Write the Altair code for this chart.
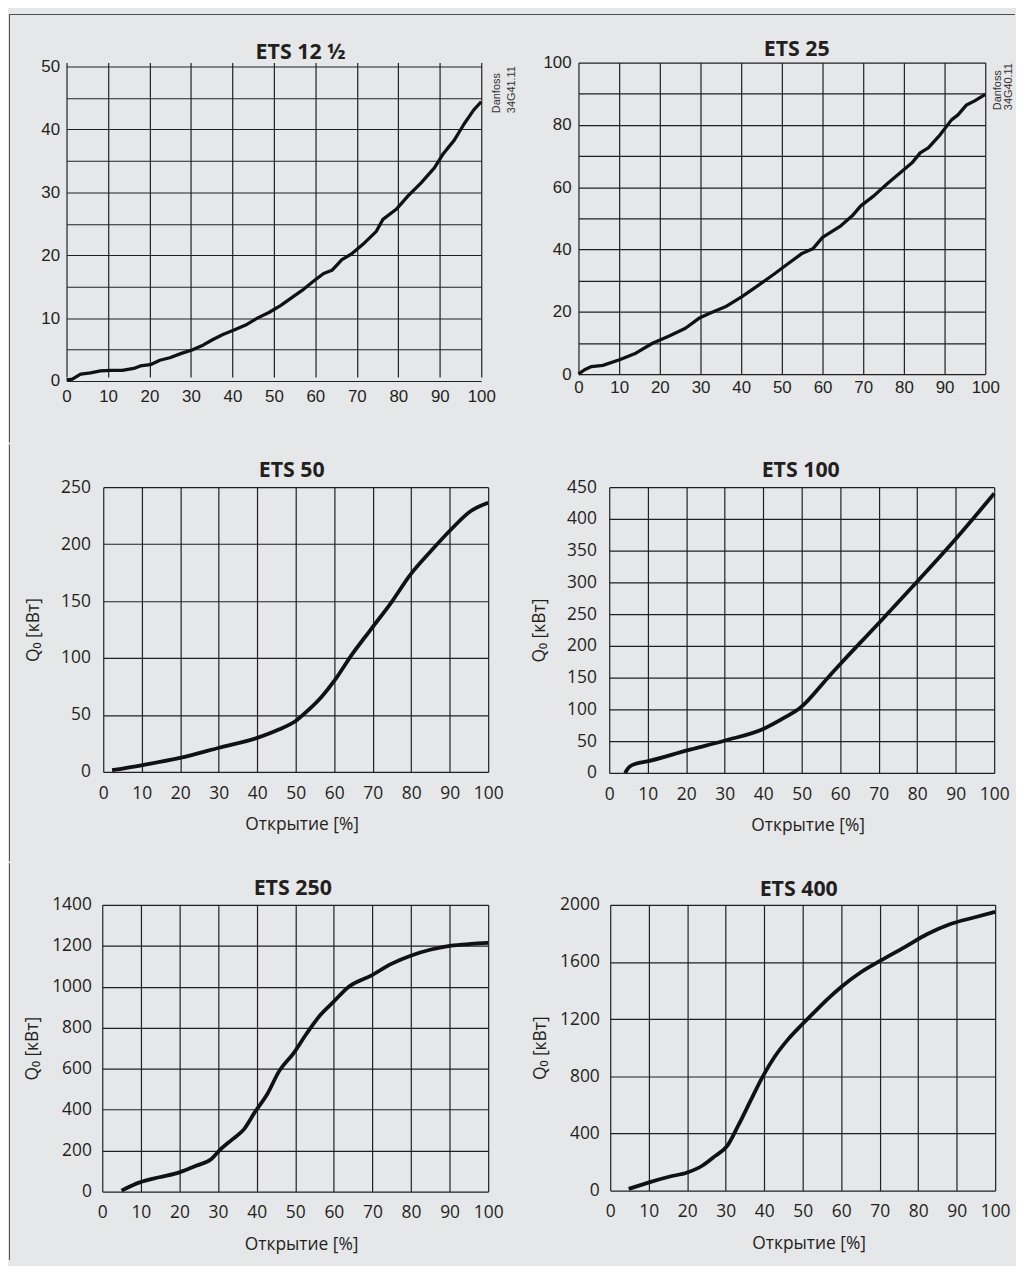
import altair as alt
import pandas as pd

# ---------------- data ----------------
x_ticks = [0, 10, 20, 30, 40, 50, 60, 70, 80, 90, 100]

ets12_open = [0, 1.4, 3.4, 5.8, 8.2, 10.6, 13.4, 16.2, 17.8, 20.2, 22.5, 24.9, 27.7, 30.1,
              32.9, 35.3, 37.7, 40.4, 43.2, 46.0, 48.8, 51.6, 54.4, 56.8, 59.6, 62.0, 64.0,
              66.4, 68.7, 71.9, 74.7, 76.3, 79.5, 82.3, 85.5, 88.7, 90.7, 93.5, 95.9, 98.2, 100]
ets12_q = [0.2, 0.3, 1.1, 1.3, 1.6, 1.7, 1.7, 2.0, 2.4, 2.6, 3.3, 3.7, 4.4, 4.9,
           5.7, 6.6, 7.4, 8.1, 8.9, 10.0, 10.9, 12.0, 13.3, 14.4, 15.9, 17.1, 17.6,
           19.3, 20.2, 22.0, 23.8, 25.7, 27.3, 29.4, 31.5, 33.9, 36.0, 38.3, 40.9, 43.1, 44.4]
ets12_yticks = [0, 5, 10, 15, 20, 25, 30, 35, 40, 45, 50]

ets25_open = [0, 1.5, 3.2, 6.0, 10.1, 14.1, 18.2, 22.3, 26.3, 29.6, 32.0, 36.1, 40.1, 44.2,
              48.2, 51.5, 54.8, 57.6, 60.0, 64.5, 67.3, 69.4, 72.6, 75.9, 79.1, 82.0, 84.0,
              86.0, 88.9, 91.7, 93.3, 95.4, 97.4, 100]
ets25_q = [0, 1.4, 2.4, 2.8, 4.6, 6.7, 9.9, 12.2, 14.7, 17.9, 19.4, 21.6, 24.8, 28.5,
           32.2, 35.4, 38.6, 40.2, 43.9, 47.6, 50.8, 54.0, 57.2, 61.1, 64.6, 67.8, 71.0,
           72.6, 76.8, 81.6, 83.2, 86.4, 87.7, 89.8]
ets25_yticks = [0, 10, 20, 30, 40, 50, 60, 70, 80, 90, 100]

ets50_open = [2.3, 9.9, 20.2, 30.1, 40.0, 45.6, 49.9, 53.4, 56.8, 60.2, 64.5, 69.7, 74.9,
              79.6, 85.2, 90.4, 95.5, 100]
ets50_q = [1.5, 5.8, 12.5, 21.2, 29.9, 37.2, 44.5, 54.7, 66.3, 80.8, 102.6, 125.9, 149.1,
           172.4, 194.2, 213.1, 229.1, 236.3]
ets50_yticks = [0, 50, 100, 150, 200, 250]

ets100_open = [4.1, 5.2, 6.9, 9.9, 20.2, 30.1, 40.0, 45.6, 49.7, 56.8, 60.1, 70.0, 79.9, 90.0, 100]
ets100_q = [0, 9.4, 14.6, 18.2, 35.4, 51.0, 69.2, 87.4, 103.0, 150.0, 172.0, 235.7, 300.7, 368.4, 440]
ets100_yticks = [0, 50, 100, 150, 200, 250, 300, 350, 400, 450]

ets250_open = [5.0, 9.7, 14.8, 20.0, 24.3, 28.2, 30.7, 33.7, 36.7, 39.7, 42.7, 45.8, 49.6,
               53.0, 56.5, 59.9, 63.8, 69.8, 74.9, 80.1, 85.2, 90.4, 95.5, 100]
ets250_q = [5, 45, 70, 94, 126, 158, 207, 255, 304, 393, 474, 587, 676,
            773, 862, 926, 999, 1056, 1112, 1153, 1182, 1201, 1209, 1214]
ets250_yticks = [0, 200, 400, 600, 800, 1000, 1200, 1400]

ets400_open = [4.8, 10.1, 15.3, 20.0, 23.9, 27.3, 30.4, 33.4, 36.4, 39.4, 42.8, 46.3, 49.7,
               53.1, 56.6, 60.0, 65.2, 70.3, 76.4, 82.4, 88.4, 94.5, 100]
ets400_q = [12, 58, 97, 127, 174, 243, 313, 463, 626, 788, 940, 1062, 1159,
            1251, 1344, 1425, 1530, 1611, 1703, 1796, 1866, 1912, 1951]
ets400_yticks = [0, 400, 800, 1200, 1600, 2000]

titles = ["ETS 12 ½", "ETS 25", "ETS 50", "ETS 100", "ETS 250", "ETS 400"]
x_title = "Открытие [%]"
y_title = "Q₀ [кВт]"
notes_12 = ["Danfoss", "34G41.11"]
notes_25 = ["Danfoss", "34G40.11"]

# ---------------- styling ----------------
INK = "#231f20"
LINE = "#111111"
BG = "#e6e7e8"
FRAME = "#4d4e50"
ARIAL = "Liberation Sans"
MYRIAD = "Open Sans"


def one(value):
    return pd.DataFrame({"v": [value]})


def panel(xs, ys, yticks, ymax, title, *, width, height, title_xy,
          x_range=None, y_range=None, top_row=False, y_lpad=7, x_lpad=8,
          label_every=None, y_offset=0, x_title_x=None, stroke=3.4,
          interp="linear", extras=()):
    df = pd.DataFrame({"x": xs, "y": ys})
    xs_kw = {"domain": [0, 100], "nice": False, "zero": False}
    if x_range:
        xs_kw["range"] = x_range
    ys_kw = {"domain": [0, ymax], "nice": False, "zero": False}
    if y_range:
        ys_kw["range"] = y_range

    common = dict(grid=True, domain=False, ticks=False, tickSize=0, format="d",
                  labelColor=INK, labelFlush=False, labelOverlap=False)
    if top_row:
        lab = dict(labelFont=ARIAL, labelFontSize=17)
        x_axis = alt.Axis(values=x_ticks, labelPadding=x_lpad, title=None, **lab, **common)
        yk = dict(values=yticks, labelPadding=y_lpad, title=None, **lab, **common)
        if label_every:
            yk["labelExpr"] = f"datum.value % {label_every} == 0 ? datum.label : ''"
        y_axis = alt.Axis(**yk)
    else:
        lab = dict(labelFont=MYRIAD, labelFontSize=17.5,
                   titleFont=MYRIAD, titleFontSize=17.5, titleFontWeight="normal",
                   titleColor=INK)
        x_axis = alt.Axis(values=x_ticks, labelPadding=x_lpad, title=x_title,
                          titlePadding=14.5, minExtent=30, maxExtent=30,
                          titleX=x_title_x, **lab, **common)
        yk = dict(values=yticks, labelPadding=y_lpad, title=y_title,
                  titlePadding=16, minExtent=45, maxExtent=45, **lab, **common)
        if y_offset:
            yk["offset"] = y_offset
        y_axis = alt.Axis(**yk)

    curve = alt.Chart(df).mark_line(color=LINE, strokeWidth=stroke, interpolate=interp,
                                    strokeJoin="round").encode(
        x=alt.X("x:Q", scale=alt.Scale(**xs_kw), axis=x_axis),
        y=alt.Y("y:Q", scale=alt.Scale(**ys_kw), axis=y_axis),
    )
    ttl = alt.Chart(one(title)).mark_text(
        font=MYRIAD, fontWeight="bold", fontSize=21.5, color=INK,
        align="center", baseline="alphabetic",
    ).encode(x=alt.value(title_xy[0]), y=alt.value(title_xy[1]), text="v:N")
    layers = [curve, ttl] + list(extras)
    return alt.layer(*layers).properties(width=width, height=height)


def frame_box(x1, x2, y1, y2):
    # fill-only rect: its bounds are exact, so the frame pieces of the rows meet
    return alt.Chart(one(0)).mark_rect(color=FRAME).encode(
        x=alt.value(x1), x2=alt.value(x2), y=alt.value(y1), y2=alt.value(y2))


def note(text, x, y):
    return alt.Chart(one(text)).mark_text(
        font=ARIAL, fontSize=11, color="#333333", angle=270,
        align="left", baseline="middle",
    ).encode(x=alt.value(x), y=alt.value(y), text="v:N")


p1 = panel(ets12_open, ets12_q, ets12_yticks, 50, titles[0], width=418, height=321,
           y_range=[321, 4], top_row=True, y_lpad=7, x_lpad=8, label_every=10,
           title_xy=(236, -4), stroke=3.3,
           extras=[frame_box(-58, -57, -49, 383), frame_box(-58, 956, -49, -48),
                   note(notes_12[0], 434, 51), note(notes_12[1], 449, 51)])
p2 = panel(ets25_open, ets25_q, ets25_yticks, 100, titles[1], width=410, height=314,
           top_row=True, y_lpad=7.5, x_lpad=6, label_every=20,
           title_xy=(220, -7), stroke=3.3,
           extras=[note(notes_25[0], 423, 48), note(notes_25[1], 434, 48)])

p3 = panel(ets50_open, ets50_q, ets50_yticks, 250, titles[2], width=425, height=287,
           x_range=[37, 425], y_lpad=13, x_lpad=12.5, y_offset=-37, x_title_x=237,
           title_xy=(227, -10), stroke=3.8, interp="monotone",
           extras=[frame_box(-58, -57, -43, 377)])
p4 = panel(ets100_open, ets100_q, ets100_yticks, 450, titles[3], width=388, height=288,
           y_lpad=13, x_lpad=12.5, x_title_x=200,
           title_xy=(193, -10), stroke=3.8, interp="monotone")

p5 = panel(ets250_open, ets250_q, ets250_yticks, 1400, titles[4], width=425, height=289,
           x_range=[36, 425], y_lpad=11, x_lpad=12.5, y_offset=-36, x_title_x=236.5,
           title_xy=(228, -10), stroke=3.8, interp="monotone",
           extras=[frame_box(-58, -57, -42, 358)])
p6 = panel(ets400_open, ets400_q, ets400_yticks, 2000, titles[5], width=388, height=288,
           y_lpad=11, x_lpad=12.5, x_title_x=200,
           title_xy=(190, -9), stroke=3.8, interp="monotone")

row1 = alt.hconcat(p1, p2, spacing=98, bounds="flush")
row2 = alt.hconcat(p3, p4, spacing=122, bounds="flush")
row3 = alt.hconcat(p5, p6, spacing=123, bounds="flush")
lower = alt.vconcat(row2, row3, spacing=0)

chart = (
    alt.vconcat(row1, lower, spacing=0)
    .properties(padding=0, background=BG)
    .configure_view(stroke="transparent")
    .configure_axis(gridColor=INK, gridWidth=1.2, gridOpacity=1)
)

chart.save("out.html", embed_options={"renderer": "svg", "actions": False})
